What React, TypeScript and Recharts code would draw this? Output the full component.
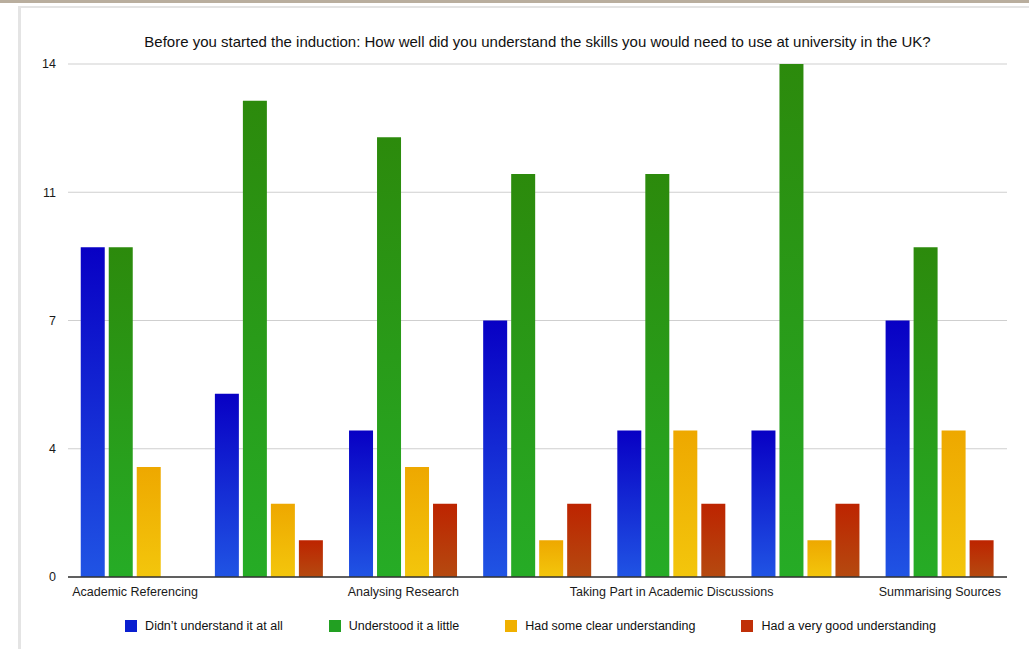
import { BarChart, Bar, XAxis, YAxis, CartesianGrid } from 'recharts';

const skills = [
  'Academic Referencing',
  'Critical Thinking',
  'Analysing Research',
  'Academic Writing',
  'Taking Part in Academic Discussions',
  'Independent Study',
  'Summarising Sources',
];

const notAtAll = [9, 5, 4, 7, 4, 4, 7];
const aLittle = [9, 13, 12, 11, 11, 14, 9];
const someClear = [3, 2, 3, 1, 4, 1, 4];
const veryGood = [0, 1, 2, 2, 2, 2, 1];

const yTicks = [0, 3.5, 7, 10.5, 14];

const series = [
  { key: 'notAtAll', name: "Didn\u2019t understand it at all", top: '#0800c4', bottom: '#2054e4', swatch: '#0a1fd0' },
  { key: 'aLittle', name: 'Understood it a little', top: '#2c8a0c', bottom: '#26ac26', swatch: '#22a022' },
  { key: 'someClear', name: 'Had some clear understanding', top: '#eea800', bottom: '#f3c60c', swatch: '#f0b000' },
  { key: 'veryGood', name: 'Had a very good understanding', top: '#bd2400', bottom: '#b54a10', swatch: '#c03008' },
];

const data = skills.map((skill, i) => ({
  skill,
  notAtAll: notAtAll[i],
  aLittle: aLittle[i],
  someClear: someClear[i],
  veryGood: veryGood[i],
}));

const font = '"Liberation Sans", Arial, Helvetica, sans-serif';

export default function App() {
  return (
    <div style={{ position: 'absolute', left: 0, top: 0, width: 1029, height: 649, background: '#fff', overflow: 'hidden', fontFamily: font }}>
      {/* page frame */}
      <div style={{ position: 'absolute', left: 0, top: 0, width: 1029, height: 3, background: '#b9ae9e' }} />
      <div style={{ position: 'absolute', left: 18, top: 6, width: 1011, height: 2, background: '#e4e4e4' }} />
      <div style={{ position: 'absolute', left: 18, top: 6, width: 3, height: 643, background: '#e4e4e4' }} />

      <div style={{ position: 'absolute', left: 68, top: 33, width: 939, textAlign: 'center', fontSize: 15, color: '#111' }}>
        Before you started the induction: How well did you understand the skills you would need to use at university in the UK?
      </div>

      <div style={{ position: 'absolute', left: 0, top: 0 }}>
        <BarChart width={1029} height={620} data={data} margin={{ top: 64, right: 22, left: 0, bottom: 13 }} barGap={4} barCategoryGap="9.5%">
          <defs>
            {series.map((s) => (
              <linearGradient key={s.key} id={'grad-' + s.key} x1="0" y1="0" x2="0" y2="1">
                <stop offset="0%" stopColor={s.top} />
                <stop offset="100%" stopColor={s.bottom} />
              </linearGradient>
            ))}
          </defs>
          <CartesianGrid vertical={false} stroke="#cfcfcf" strokeWidth={1} />
          <XAxis
            dataKey="skill"
            interval={1}
            tickLine={false}
            axisLine={{ stroke: '#333', strokeWidth: 1.5 }}
            tick={{ fill: '#1a1a1a', fontSize: 12.5, fontFamily: font }}
            tickMargin={4}
            height={30}
          />
          <YAxis
            domain={[0, 14]}
            ticks={yTicks}
            tickFormatter={(v: number) => String(Math.round(v))}
            axisLine={false}
            tickLine={false}
            tick={{ fill: '#1a1a1a', fontSize: 12.5, fontFamily: font }}
            width={68}
            tickMargin={6}
          />
          {series.map((s) => (
            <Bar key={s.key} dataKey={s.key} name={s.name} fill={`url(#grad-${s.key})`} isAnimationActive={false} />
          ))}
        </BarChart>
      </div>

      <div style={{ position: 'absolute', left: 32, top: 619, width: 997, display: 'flex', justifyContent: 'center', gap: 46, fontSize: 12.5, color: '#111' }}>
        {series.map((s) => (
          <div key={s.key} style={{ display: 'flex', alignItems: 'center' }}>
            <span style={{ display: 'inline-block', width: 12, height: 12, background: s.swatch, marginRight: 8 }} />
            <span>{s.name}</span>
          </div>
        ))}
      </div>
    </div>
  );
}
